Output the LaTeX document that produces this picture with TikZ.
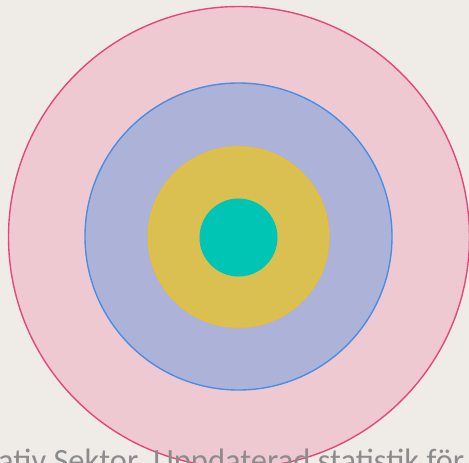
\documentclass[tikz,border=0pt]{standalone}
\usepackage{fontspec}
\setmainfont{Carlito}
\definecolor{bg}{RGB}{239,236,232}
\definecolor{pinkfill}{RGB}{238,201,210}
\definecolor{pinkline}{RGB}{232,70,122}
\definecolor{bluefill}{RGB}{173,179,216}
\definecolor{blueline}{RGB}{72,142,228}
\definecolor{yellowfill}{RGB}{217,192,80}
\definecolor{yellowline}{RGB}{240,192,30}
\definecolor{tealfill}{RGB}{0,197,180}
\definecolor{textgray}{RGB}{140,140,140}
\tikzset{ring/.style={circle, inner sep=0pt, line width=1.4pt}}
\begin{document}
\begin{tikzpicture}[x=1pt,y=-1pt]
\useasboundingbox (0,0) rectangle (469,463);
\fill[bg] (0,0) rectangle (469,463);
\begin{scope}
\clip (0,0) rectangle (469,463);
\node[ring, draw=pinkline, fill=pinkfill, minimum size=461pt] (outer) at (239,237) {};
\node[ring, draw=blueline, fill=bluefill, minimum size=307pt] (blue) at (238.5,236.5) {};
\node[ring, draw=yellowline, fill=yellowfill, minimum size=180pt] (yellow) at (238.5,237) {};
\node[ring, fill=tealfill, minimum size=78pt] (teal) at (238.5,237.5) {};
\node[anchor=base west, inner sep=0pt, text=textgray, font=\fontsize{32.5}{38}\selectfont] (caption) at (-2,471) {ativ Sektor. Uppdaterad statistik för};
\end{scope}
\end{tikzpicture}
\end{document}
